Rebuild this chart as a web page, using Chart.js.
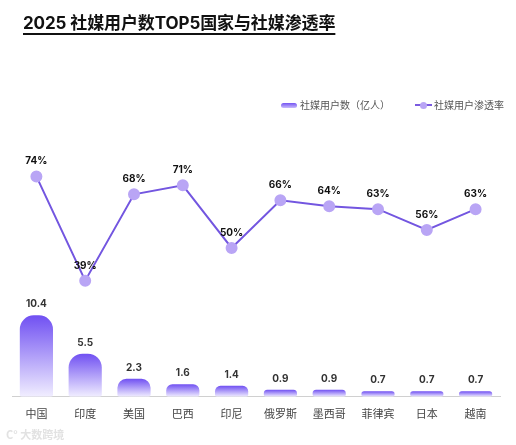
<!DOCTYPE html>
<html>
<head>
<meta charset="utf-8">
<script src="https://cdn.jsdelivr.net/npm/chart.js@4.4.1/dist/chart.umd.min.js"></script>
<style>
  html,body{margin:0;padding:0;background:#fff;}
  #wrap{position:relative;width:516px;height:445px;}
  #title{position:absolute;left:23px;top:9px;font:bold 17px Inter,"Noto Sans CJK SC",sans-serif;color:#111;
    text-decoration:underline;text-underline-offset:4px;text-decoration-thickness:1.5px;white-space:nowrap;letter-spacing:-0.1px;}
  .leg{position:absolute;top:98px;font:10px "Noto Sans CJK SC",sans-serif;color:#555;white-space:nowrap;line-height:13px;}
  .sw1{display:inline-block;width:16px;height:5px;border-radius:3px;background:linear-gradient(#7454f2,#c9bcfb);vertical-align:middle;margin-right:3px;position:relative;top:-1px;}
  .sw2{display:inline-block;width:17px;height:2px;background:#7b5be0;vertical-align:middle;margin-right:2px;position:relative;top:-1px;}
  .sw2:after{content:"";position:absolute;left:5px;top:-2.5px;width:7px;height:7px;border-radius:50%;background:#b9a5f5;}
  #wm{position:absolute;left:6px;top:426px;font:bold 11px "Noto Sans CJK SC",sans-serif;color:#e2e2e2;white-space:nowrap;}
</style>
</head>
<body>
<div id="wrap">
  <canvas id="c"></canvas>
  <div id="title">2025 社媒用户数TOP5国家与社媒渗透率</div>
  <div class="leg" style="left:281px;"><span class="sw1"></span>社媒用户数（亿人）</div>
  <div class="leg" style="left:415px;"><span class="sw2"></span>社媒用户渗透率</div>
  <div id="wm">C° 大数跨境</div>
</div>
<script>
const categories = ['中国','印度','美国','巴西','印尼','俄罗斯','墨西哥','菲律宾','日本','越南'];
const users = [10.4, 5.5, 2.3, 1.6, 1.4, 0.9, 0.9, 0.7, 0.7, 0.7];
const penetration = [74, 39, 68, 71, 50, 66, 64, 63, 56, 63];
const seriesNames = ['社媒用户数（亿人）', '社媒用户渗透率'];

function barGradient(ctx) {
  const chart = ctx.chart;
  const scale = chart.scales && chart.scales.y;
  if (!scale || !chart.chartArea || ctx.raw === undefined) return '#7454f2';
  const top = scale.getPixelForValue(ctx.raw);
  const base = scale.getPixelForValue(0);
  const g = chart.ctx.createLinearGradient(0, top, 0, base);
  g.addColorStop(0, '#7050f2');
  g.addColorStop(1, '#f1eeff');
  return g;
}

const labelPlugin = {
  id: 'valueLabels',
  afterDatasetsDraw(chart) {
    const c = chart.ctx;
    c.save();
    c.textAlign = 'center';
    c.textBaseline = 'alphabetic';
    const barMeta = chart.getDatasetMeta(0);
    c.font = 'bold 10px Inter, "Noto Sans CJK SC", sans-serif';
    c.fillStyle = '#333';
    barMeta.data.forEach((el, i) => {
      c.fillText(users[i].toFixed(1), el.x, el.y - 8);
    });
    const lineMeta = chart.getDatasetMeta(1);
    c.fillStyle = '#111';
    lineMeta.data.forEach((el, i) => {
      c.fillText(penetration[i] + '%', el.x, el.y - 12);
    });
    c.restore();
  }
};

new Chart(document.getElementById('c'), {
  data: {
    labels: categories,
    datasets: [
      {
        type: 'bar',
        label: seriesNames[0],
        data: users,
        yAxisID: 'y',
        backgroundColor: barGradient,
        borderRadius: {topLeft: 14, topRight: 14, bottomLeft: 2, bottomRight: 2},
        borderSkipped: false,
        barPercentage: 0.68,
        categoryPercentage: 1,
        order: 2
      },
      {
        type: 'line',
        label: seriesNames[1],
        data: penetration,
        yAxisID: 'y1',
        borderColor: '#7356e0',
        borderWidth: 2,
        pointBackgroundColor: '#b9a5f5',
        pointBorderColor: '#b9a5f5',
        pointRadius: 5,
        tension: 0,
        order: 1
      }
    ]
  },
  options: {
    responsive: true,
    maintainAspectRatio: false,
    animation: false,
    layout: {padding: {top: 99, left: 12, right: 16, bottom: 23}},
    plugins: {legend: {display: false}, tooltip: {enabled: false}},
    scales: {
      x: {
        grid: {display: false},
        border: {display: true, color: '#d0d0d0'},
        ticks: {padding: 2, color: '#444', font: {size: 11, family: '"Noto Sans CJK SC", sans-serif'}}
      },
      y: {display: false, min: 0, max: 38},
      y1: {display: false, min: 0, max: 100}
    }
  },
  plugins: [labelPlugin]
});
</script>
</body>
</html>
